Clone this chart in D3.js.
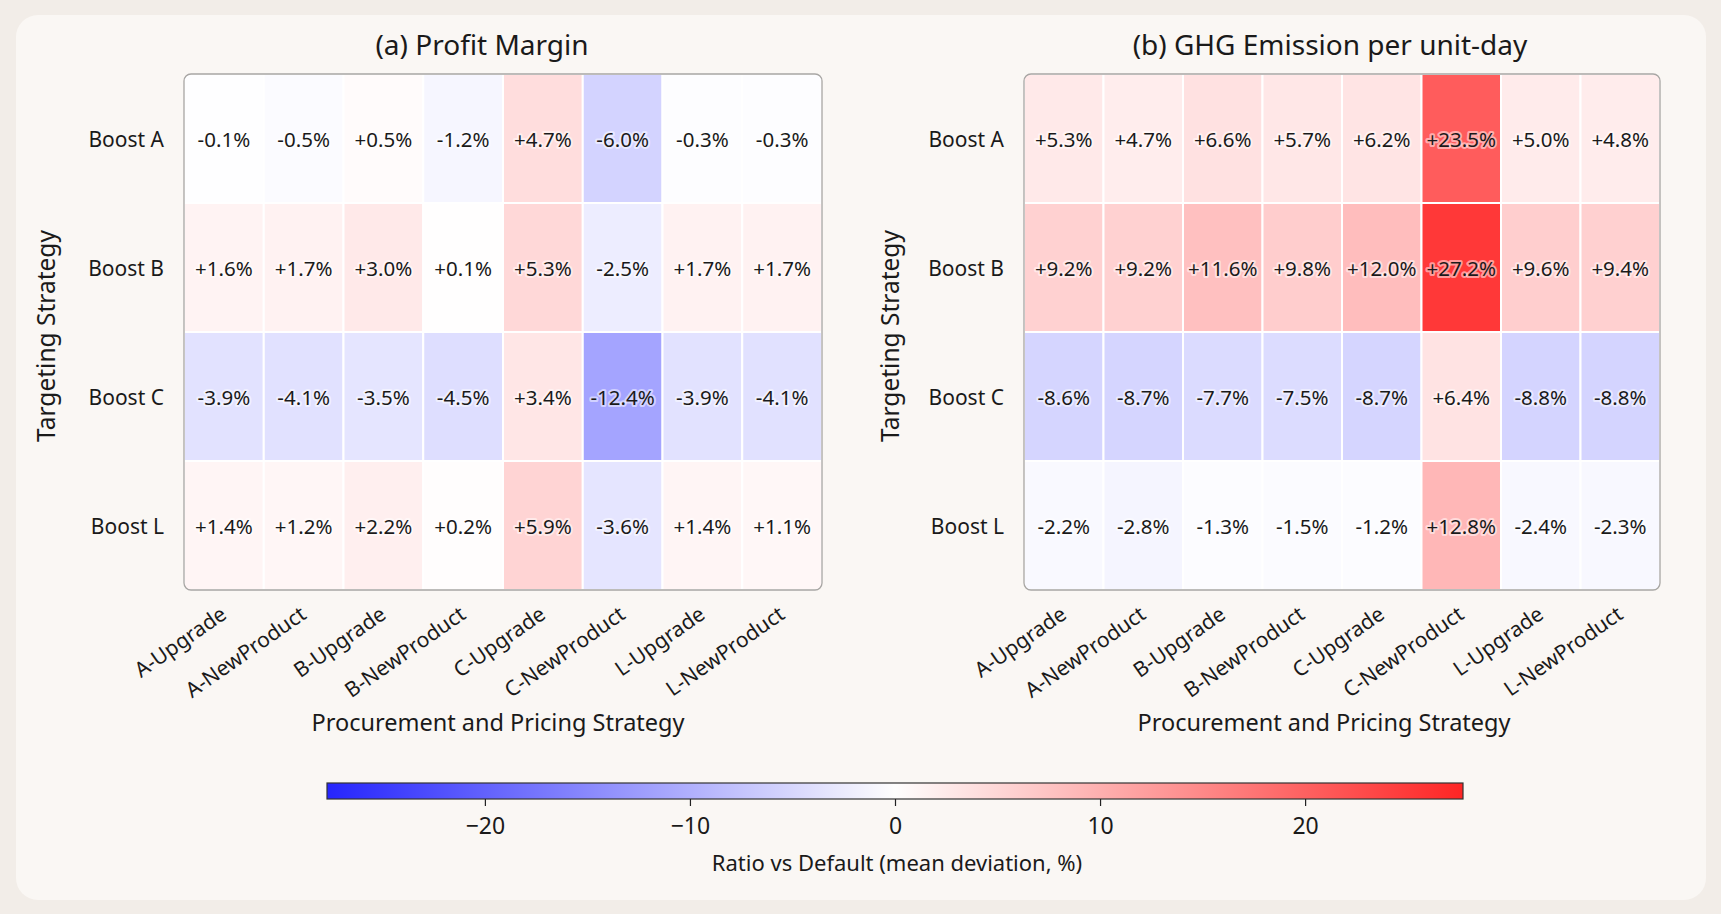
<!DOCTYPE html>
<html>
<head>
<meta charset="utf-8">
<script src="https://cdn.jsdelivr.net/npm/d3@7"></script>
<style>
  html, body { margin: 0; padding: 0; background: #f2ede8; }
  svg { display: block; font-family: "Noto Sans", Lato, sans-serif; }
</style>
</head>
<body>
<script>
// ---- data ----
var targeting = ["Boost A", "Boost B", "Boost C", "Boost L"];
var procurement = ["A-Upgrade", "A-NewProduct", "B-Upgrade", "B-NewProduct",
    "C-Upgrade", "C-NewProduct", "L-Upgrade", "L-NewProduct"];

// Profit margin deviation (%), one row per targeting strategy
var profitMargin = [
    [-0.1, -0.5, 0.5, -1.2, 4.7, -6.0, -0.3, -0.3],
    [1.6, 1.7, 3.0, 0.1, 5.3, -2.5, 1.7, 1.7],
    [-3.9, -4.1, -3.5, -4.5, 3.4, -12.4, -3.9, -4.1],
    [1.4, 1.2, 2.2, 0.2, 5.9, -3.6, 1.4, 1.1]
];

// GHG emission per unit-day deviation (%)
var ghgEmission = [
    [5.3, 4.7, 6.6, 5.7, 6.2, 23.5, 5.0, 4.8],
    [9.2, 9.2, 11.6, 9.8, 12.0, 27.2, 9.6, 9.4],
    [-8.6, -8.7, -7.7, -7.5, -8.7, 6.4, -8.8, -8.8],
    [-2.2, -2.8, -1.3, -1.5, -1.2, 12.8, -2.4, -2.3]
];

var colorbarTicks = [-20, -10, 0, 10, 20];
var colorLimit = 27.7;

// ---- layout ----
var W = 1721, H = 914;
var yTop = 74, yBottom = 590;

var svg = d3.select("body").append("svg")
    .attr("width", W)
    .attr("height", H);

var defs = svg.append("defs");

svg.append("rect")
    .attr("x", 16).attr("y", 15)
    .attr("width", 1690).attr("height", 885)
    .attr("rx", 22)
    .attr("fill", "#faf7f4");

// bwr colormap, t in [-1, 1]
function bwr(t) {
    t = Math.max(-1, Math.min(1, t));
    var c;
    if (t < 0) {
        c = Math.round(255 * (1 + t));
        return d3.rgb(c, c, 255);
    }
    c = Math.round(255 * (1 - t));
    return d3.rgb(255, c, c);
}

function fmt(v) {
    return (v > 0 ? "+" : v < 0 ? "-" : "") + Math.abs(v).toFixed(1) + "%";
}

var panels = [
    {id: "a", title: "(a) Profit Margin", values: profitMargin, gamma: 1,
        x0: 184, x1: 822, titleX: 482, xTitleX: 498, yTitleX: 45},
    {id: "b", title: "(b) GHG Emission per unit-day", values: ghgEmission, gamma: 1.35,
        x0: 1024, x1: 1660, titleX: 1330, xTitleX: 1324, yTitleX: 889}
];

panels.forEach(function(p) {
    var x = d3.scaleBand().domain(procurement).range([p.x0, p.x1]);
    var y = d3.scaleBand().domain(targeting).range([yTop, yBottom]);
    var norm = d3.scalePow().exponent(p.gamma).domain([0, colorLimit]).range([0, 1]).clamp(true);
    var color = function(v) { return bwr(Math.sign(v) * norm(Math.abs(v))); };
    var g = svg.append("g");

    var clipId = "clip-" + p.id;
    defs.append("clipPath").attr("id", clipId)
      .append("rect")
        .attr("x", p.x0).attr("y", yTop)
        .attr("width", p.x1 - p.x0).attr("height", yBottom - yTop)
        .attr("rx", 7);

    var cells = [];
    p.values.forEach(function(row, i) {
        row.forEach(function(v, j) {
            cells.push({row: targeting[i], col: procurement[j], value: v});
        });
    });

    var cg = g.append("g").attr("clip-path", "url(#" + clipId + ")");
    cg.append("rect")
        .attr("x", p.x0).attr("y", yTop)
        .attr("width", p.x1 - p.x0).attr("height", yBottom - yTop)
        .attr("fill", "#ffffff");

    cg.selectAll("rect.cell")
        .data(cells)
      .enter().append("rect")
        .attr("class", "cell")
        .attr("x", function(d) { return x(d.col); })
        .attr("y", function(d) { return y(d.row); })
        .attr("width", x.bandwidth())
        .attr("height", y.bandwidth())
        .attr("fill", function(d) { return color(d.value); })
        .attr("fill-opacity", 0.8)
        .attr("stroke", "#ffffff")
        .attr("stroke-width", 2);

    g.append("rect")
        .attr("x", p.x0).attr("y", yTop)
        .attr("width", p.x1 - p.x0).attr("height", yBottom - yTop)
        .attr("rx", 7)
        .attr("fill", "none")
        .attr("stroke", "#a8a6a4")
        .attr("stroke-width", 1.3);

    // cell labels
    g.selectAll("text.val")
        .data(cells)
      .enter().append("text")
        .attr("class", "val")
        .attr("x", function(d) { return x(d.col) + x.bandwidth() / 2; })
        .attr("y", function(d) { return y(d.row) + y.bandwidth() / 2; })
        .attr("text-anchor", "middle")
        .attr("dominant-baseline", "central")
        .attr("font-size", 20.5)
        .attr("fill", "#1a1a1a")
        .attr("stroke", "#ffffff")
        .attr("stroke-opacity", 0.5)
        .attr("stroke-width", 4)
        .attr("stroke-linejoin", "round")
        .attr("paint-order", "stroke")
        .text(function(d) { return fmt(d.value); });

    // row labels
    g.selectAll("text.row")
        .data(targeting)
      .enter().append("text")
        .attr("class", "row")
        .attr("x", p.x0 - 20)
        .attr("y", function(d) { return y(d) + y.bandwidth() / 2; })
        .attr("text-anchor", "end")
        .attr("dominant-baseline", "central")
        .attr("font-size", 21)
        .attr("fill", "#1a1a1a")
        .text(function(d) { return d; });

    // column labels, rotated
    g.selectAll("text.col")
        .data(procurement)
      .enter().append("text")
        .attr("class", "col")
        .attr("transform", function(d) {
            return "translate(" + (x(d) + x.bandwidth() / 2 - 6) + "," + (yBottom + 13) + ") rotate(-35)";
        })
        .attr("text-anchor", "end")
        .attr("dominant-baseline", "hanging")
        .attr("font-size", 21)
        .attr("fill", "#1a1a1a")
        .text(function(d) { return d; });

    svg.append("text")
        .attr("x", p.titleX).attr("y", 55)
        .attr("text-anchor", "middle")
        .attr("font-size", 28)
        .attr("fill", "#1a1a1a")
        .text(p.title);

    svg.append("text")
        .attr("x", p.xTitleX).attr("y", 731)
        .attr("text-anchor", "middle")
        .attr("font-size", 23.5)
        .attr("fill", "#1a1a1a")
        .text("Procurement and Pricing Strategy");

    svg.append("text")
        .attr("transform", "translate(" + p.yTitleX + "," + ((yTop + yBottom) / 2 + 4) + ") rotate(-90)")
        .attr("text-anchor", "middle")
        .attr("dominant-baseline", "central")
        .attr("font-size", 24.5)
        .attr("fill", "#1a1a1a")
        .text("Targeting Strategy");
});

// ---- colorbar ----
var cbX0 = 327, cbX1 = 1463, cbY = 783, cbH = 16;
var cbScale = d3.scaleLinear().domain([-colorLimit, colorLimit]).range([cbX0, cbX1]);

var grad = defs.append("linearGradient")
    .attr("id", "cbgrad")
    .attr("x1", "0%").attr("x2", "100%").attr("y1", "0%").attr("y2", "0%");
d3.range(0, 1.0001, 0.05).forEach(function(f) {
    grad.append("stop")
        .attr("offset", (f * 100) + "%")
        .attr("stop-color", bwr(2 * f - 1))
        .attr("stop-opacity", 0.85);
});

svg.append("rect")
    .attr("x", cbX0).attr("y", cbY)
    .attr("width", cbX1 - cbX0).attr("height", cbH)
    .attr("fill", "url(#cbgrad)")
    .attr("stroke", "#333333")
    .attr("stroke-width", 1.2);

var cbAxis = d3.axisBottom(cbScale)
    .tickValues(colorbarTicks)
    .tickSize(7)
    .tickPadding(12)
    .tickFormat(function(d) { return d < 0 ? "\u2212" + Math.abs(d) : d; });

var ag = svg.append("g")
    .attr("transform", "translate(0," + (cbY + cbH) + ")")
    .call(cbAxis);
ag.select(".domain").remove();
ag.selectAll(".tick line").attr("stroke", "#222").attr("stroke-width", 1.2);
ag.selectAll(".tick text")
    .attr("font-size", 23)
    .attr("font-family", "'Noto Sans', Lato, sans-serif")
    .attr("fill", "#1a1a1a");

svg.append("text")
    .attr("x", 897).attr("y", 871)
    .attr("text-anchor", "middle")
    .attr("font-size", 22)
    .attr("fill", "#1a1a1a")
    .text("Ratio vs Default (mean deviation, %)");
</script>
</body>
</html>
